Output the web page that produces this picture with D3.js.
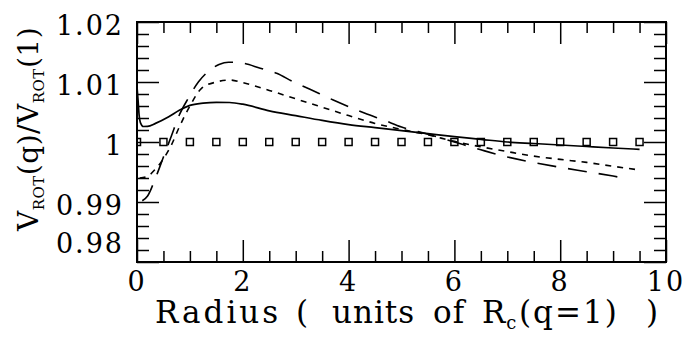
<!DOCTYPE html>
<html>
<head>
<meta charset="utf-8">
<script src="https://cdn.jsdelivr.net/npm/d3@7"></script>
<style>
  html, body { margin: 0; padding: 0; background: #fff; }
  svg { display: block; }
  text { font-family: "DejaVu Serif", serif; fill: #000; white-space: pre; }
</style>
</head>
<body>
<svg id="chart" width="689" height="345"></svg>
<script>
// Rotation-velocity ratio curves versus radius
const solidX = [0, 0.02, 0.04, 0.07, 0.12, 0.2, 0.35, 0.6, 0.8, 1.0, 1.25, 1.5, 1.75, 2.0, 2.5, 3.0, 3.5, 4.0, 4.5, 5.0, 5.5, 6.0, 6.5, 7.0, 7.5, 8.0, 8.5, 9.0, 9.5];
const solidY = [1.0092, 1.0070, 1.0045, 1.0031, 1.00258, 1.0026, 1.0031, 1.0042, 1.0053, 1.0061, 1.00648, 1.00662, 1.00658, 1.0063, 1.0052, 1.0044, 1.0036, 1.0029, 1.0024, 1.0019, 1.0014, 1.0009, 1.00045, 1.0000, 0.99975, 0.9995, 0.99925, 0.9990, 0.99878];

const dottedX = [0.05, 0.2, 0.35, 0.5, 0.65, 0.8, 1.0, 1.22, 1.5, 1.76, 2.0, 2.5, 3.0, 3.5, 4.0, 4.5, 5.0, 5.5, 6.0, 6.5, 7.0, 7.5, 8.0, 8.5, 9.0, 9.5];
const dottedY = [0.9940, 0.9943, 0.9955, 0.9972, 0.9995, 1.0025, 1.0060, 1.00895, 1.0100, 1.01033, 1.0099, 1.0086, 1.0072, 1.0058, 1.0044, 1.0031, 1.0021, 1.0012, 1.0001, 0.9992, 0.9984, 0.99765, 0.9971, 0.9966, 0.99595, 0.99533];

const dashedX = [0.1, 0.2, 0.35, 0.5, 0.65, 0.8, 0.97, 1.16, 1.38, 1.55, 1.73, 1.95, 2.33, 2.64, 2.95, 3.27, 3.71, 4.03, 4.31, 4.66, 5.0, 5.5, 6.0, 6.5, 7.0, 7.5, 8.0, 8.5, 9.0, 9.2];
const dashedY = [0.9902, 0.9910, 0.9940, 0.9975, 1.0010, 1.0045, 1.0073, 1.0100, 1.0120, 1.0129, 1.0133, 1.0132, 1.0123, 1.01145, 1.01005, 1.00878, 1.0070, 1.00578, 1.00478, 1.00367, 1.0025, 1.0013, 1.0000, 0.9987, 0.9975, 0.99658, 0.99578, 0.99505, 0.99432, 0.99400];

const refX = [0, 0.5, 1, 1.5, 2, 2.5, 3, 3.5, 4, 4.5, 5, 5.5, 6, 6.5, 7, 7.5, 8, 8.5, 9, 9.5];
const refY = refX.map(() => 1.0);

const xTickLabels = [0, 2, 4, 6, 8, 10];
const yTickLabels = [0.98, 0.99, 1.0, 1.01, 1.02];
const yTickText = ["0.98", "0.99", "1", "1.01", "1.02"];

const svg = d3.select("#chart");
const L = 137, R = 666, T = 22, B = 262;
const x = d3.scaleLinear().domain([0, 10]).range([L, R]);
const y = d3.scaleLinear().domain([0.98, 1.02]).range([B, T]);

svg.append("defs").append("clipPath").attr("id", "plotclip")
  .append("rect").attr("x", L).attr("y", T).attr("width", R - L).attr("height", B - T);

const plot = svg.append("g").attr("clip-path", "url(#plotclip)");

const line = d3.line().x(d => x(d[0])).y(d => y(d[1])).curve(d3.curveMonotoneX);
const zip = (a, b) => a.map((v, i) => [v, b[i]]);

plot.append("path").datum(zip(solidX, solidY)).attr("d", line)
  .attr("fill", "none").attr("stroke", "#000").attr("stroke-width", 1.7);
plot.append("path").datum(zip(dottedX, dottedY)).attr("d", line)
  .attr("fill", "none").attr("stroke", "#000").attr("stroke-width", 1.6)
  .attr("stroke-dasharray", "6,6");
plot.append("path").datum(zip(dashedX, dashedY)).attr("d", line)
  .attr("fill", "none").attr("stroke", "#000").attr("stroke-width", 1.6)
  .attr("stroke-dasharray", "19,12");

const sq = 7;
plot.selectAll("rect.ref").data(zip(refX, refY)).join("rect").attr("class", "ref")
  .attr("x", d => x(d[0]) - sq / 2).attr("y", d => y(d[1]) - sq / 2)
  .attr("width", sq).attr("height", sq)
  .attr("fill", "none").attr("stroke", "#000").attr("stroke-width", 1.5);

// Inward ticks on all four sides
const xMajor = d3.range(0, 10.01, 2);
const xMinor = d3.range(0, 10.01, 0.5).filter(v => Math.abs(v / 2 - Math.round(v / 2)) > 1e-6);
const yMajor = [0.98, 0.99, 1.0, 1.01, 1.02];
const yMinor = d3.range(0, 21).map(i => 0.98 + i * 0.002).filter(v => !yMajor.some(m => Math.abs(m - v) < 1e-6));

function styleAxis(g) {
  g.select(".domain").remove();
  g.selectAll("text").remove();
  g.selectAll("line").attr("stroke", "#000").attr("stroke-width", 1.5);
}
const addAxis = (axis, tr) => svg.append("g").attr("transform", tr).call(axis).call(styleAxis);

addAxis(d3.axisBottom(x).tickValues(xMajor).tickSize(-22), `translate(0,${B})`);
addAxis(d3.axisBottom(x).tickValues(xMinor).tickSize(-11), `translate(0,${B})`);
addAxis(d3.axisTop(x).tickValues(xMajor).tickSize(-22), `translate(0,${T})`);
addAxis(d3.axisTop(x).tickValues(xMinor).tickSize(-11), `translate(0,${T})`);
addAxis(d3.axisLeft(y).tickValues(yMajor).tickSize(-22), `translate(${L},0)`);
addAxis(d3.axisLeft(y).tickValues(yMinor).tickSize(-12), `translate(${L},0)`);
addAxis(d3.axisRight(y).tickValues(yMajor).tickSize(-22), `translate(${R},0)`);
addAxis(d3.axisRight(y).tickValues(yMinor).tickSize(-12), `translate(${R},0)`);

svg.append("rect").attr("x", L).attr("y", T).attr("width", R - L).attr("height", B - T)
  .attr("fill", "none").attr("stroke", "#000").attr("stroke-width", 2);

// Tick labels
svg.selectAll("text.xt").data(xTickLabels).join("text").attr("class", "xt")
  .attr("x", d => x(d)).attr("y", 291).attr("text-anchor", "middle")
  .attr("font-size", 27).attr("letter-spacing", 2).text(d => String(d));

svg.selectAll("text.yt").data(yTickLabels).join("text").attr("class", "yt")
  .attr("x", 124).attr("y", (d, i) => Math.min(y(d) + 13, 253))
  .attr("text-anchor", "end").attr("font-size", 27).attr("letter-spacing", 2)
  .text((d, i) => yTickText[i]);

// X axis title, set word by word
const xt = svg.append("text").attr("y", 323).attr("font-size", 31).attr("letter-spacing", 1);
xt.append("tspan").attr("x", 155).attr("letter-spacing", 3).text("Radius");
xt.append("tspan").attr("x", 296).text("(");
xt.append("tspan").attr("x", 332).text("units");
xt.append("tspan").attr("x", 433).text("of");
xt.append("tspan").attr("x", 482).text("R");
xt.append("tspan").attr("font-size", 18).attr("dy", 6).text("c");
xt.append("tspan").attr("x", 519).attr("dy", -6).attr("letter-spacing", 2).text("(q=1)");
xt.append("tspan").attr("x", 646).text(")");

// Y axis title
const yt = svg.append("text").attr("transform", "translate(38,231) rotate(-90)")
  .attr("font-size", 28).attr("letter-spacing", 0.5);
yt.append("tspan").text("V");
yt.append("tspan").attr("font-size", 15).attr("dy", 6).text("ROT");
yt.append("tspan").attr("dy", -6).text("(q)/V");
yt.append("tspan").attr("font-size", 15).attr("dy", 6).text("ROT");
yt.append("tspan").attr("dy", -6).text("(1)");
</script>
</body>
</html>
